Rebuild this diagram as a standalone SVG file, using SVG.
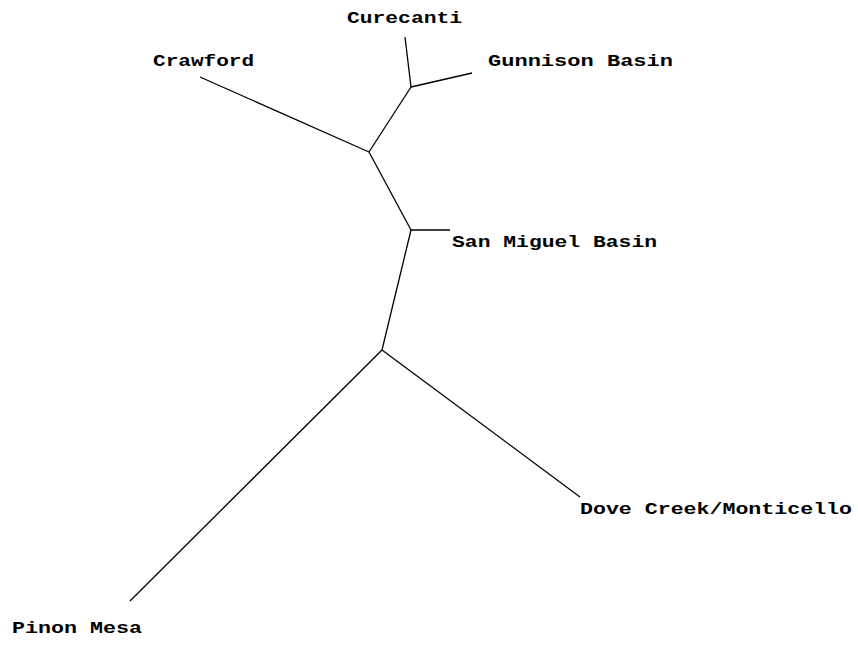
<svg xmlns="http://www.w3.org/2000/svg" width="858" height="645" viewBox="0 0 858 645">
<style>
.e{stroke:#000;stroke-width:1.3;fill:none}
.t{font-family:"Liberation Mono","Courier New",monospace;font-weight:bold;font-size:16px;fill:#000}
</style>
<rect width="858" height="645" fill="#fff"/>
<g id="edges">
<line class="e" x1="405" y1="37" x2="411" y2="87"/>
<line class="e" x1="411" y1="87" x2="472" y2="73"/>
<line class="e" x1="200" y1="77" x2="369" y2="152"/>
<line class="e" x1="369" y1="152" x2="411" y2="87"/>
<line class="e" x1="369" y1="152" x2="411" y2="230"/>
<line class="e" x1="411" y1="230" x2="450" y2="230"/>
<line class="e" x1="411" y1="230" x2="382" y2="350"/>
<line class="e" x1="382" y1="350" x2="580" y2="497"/>
<line class="e" x1="382" y1="350" x2="130" y2="601"/>
</g>
<g id="curecanti"><text class="t" x="347" y="23" textLength="115" lengthAdjust="spacingAndGlyphs">Curecanti</text></g>
<g id="crawford"><text class="t" x="153" y="66" textLength="101" lengthAdjust="spacingAndGlyphs">Crawford</text></g>
<g id="gunnison"><text class="t" x="488" y="66" textLength="185" lengthAdjust="spacingAndGlyphs">Gunnison Basin</text></g>
<g id="sanmiguel"><text class="t" x="452" y="247" textLength="205" lengthAdjust="spacingAndGlyphs">San Miguel Basin</text></g>
<g id="dovecreek"><text class="t" x="580" y="514" textLength="272" lengthAdjust="spacingAndGlyphs">Dove Creek/Monticello</text></g>
<g id="pinon"><text class="t" x="12" y="633" textLength="130" lengthAdjust="spacingAndGlyphs">Pinon Mesa</text></g>
</svg>
